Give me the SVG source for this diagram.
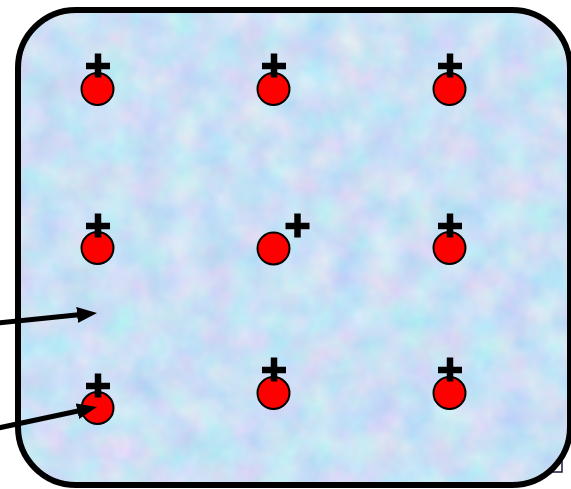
<svg xmlns="http://www.w3.org/2000/svg" xmlns:xlink="http://www.w3.org/1999/xlink" width="571" height="489" viewBox="0 0 571 489">
  <style>
    .charge { fill: #ff0000; stroke: #000000; stroke-width: 2; }
    .plus { stroke: #000000; stroke-width: 6.5; fill: none; }
    .wire { stroke: #000000; stroke-width: 5; fill: none; }
    .frame { fill: none; stroke: #000000; stroke-width: 6; }
  </style>
  <defs>
    <!-- mottled pastel fill for the box -->
    <filter id="mottle" filterUnits="userSpaceOnUse" x="0" y="0" width="571" height="489" color-interpolation-filters="sRGB">
      <feTurbulence type="fractalNoise" baseFrequency="0.03" numOctaves="3" seed="7" result="n"/>
      <feColorMatrix in="n" type="matrix"
        values="0.28 0 0 0 0.65
                0 0.16 0 0 0.80
                0 0 0.06 0 0.93
                0 0 0 0 1"/>
    </filter>
    <clipPath id="boxClip">
      <rect x="18" y="10" width="552" height="475" rx="58" ry="58"/>
    </clipPath>
    <g id="plusSign">
      <line class="plus" x1="-12" y1="0" x2="12" y2="0"/>
      <line class="plus" x1="0" y1="-12.5" x2="0" y2="11.5"/>
    </g>
    <marker id="head" markerUnits="userSpaceOnUse" markerWidth="21" markerHeight="17"
            refX="9" refY="8" orient="auto">
      <path d="M0,0 L20,8 L0,16 Z" fill="#000000"/>
    </marker>
  </defs>

  <!-- small square tucked behind the corner -->
  <rect x="548" y="458" width="14" height="14" fill="none" stroke="#1a1a40" stroke-width="1.5"/>

  <!-- the box -->
  <g id="box">
    <rect x="0" y="0" width="571" height="489" filter="url(#mottle)" clip-path="url(#boxClip)"/>
    <rect class="frame" x="18" y="10" width="552" height="475" rx="58" ry="58"/>
  </g>

  <!-- row 1 -->
  <g id="charge-1-1">
    <circle class="charge" cx="97.5" cy="89" r="16"/>
    <use xlink:href="#plusSign" x="98" y="66"/>
  </g>
  <g id="charge-1-2">
    <circle class="charge" cx="273.5" cy="89" r="16"/>
    <use xlink:href="#plusSign" x="274" y="66"/>
  </g>
  <g id="charge-1-3">
    <circle class="charge" cx="449.5" cy="89" r="16"/>
    <use xlink:href="#plusSign" x="450" y="66"/>
  </g>

  <!-- row 2 -->
  <g id="charge-2-1">
    <circle class="charge" cx="97.5" cy="248" r="16"/>
    <use xlink:href="#plusSign" x="98" y="226"/>
  </g>
  <g id="charge-2-2">
    <circle class="charge" cx="273.5" cy="248.5" r="16"/>
    <use xlink:href="#plusSign" x="297.5" y="226"/>
  </g>
  <g id="charge-2-3">
    <circle class="charge" cx="449.5" cy="248" r="16"/>
    <use xlink:href="#plusSign" x="450" y="226"/>
  </g>

  <!-- row 3 -->
  <g id="charge-3-1">
    <circle class="charge" cx="97.5" cy="408" r="16"/>
    <use xlink:href="#plusSign" x="98" y="386"/>
  </g>
  <g id="charge-3-2">
    <circle class="charge" cx="273.5" cy="393" r="16"/>
    <use xlink:href="#plusSign" x="274" y="370"/>
  </g>
  <g id="charge-3-3">
    <circle class="charge" cx="449.5" cy="393" r="16"/>
    <use xlink:href="#plusSign" x="450" y="370"/>
  </g>

  <!-- arrows -->
  <g id="connectors">
    <line class="wire" x1="-2" y1="323" x2="86.05" y2="314.1" marker-end="url(#head)"/>
    <line class="wire" x1="-2" y1="428" x2="86.2" y2="409.3" marker-end="url(#head)"/>
  </g>
</svg>
